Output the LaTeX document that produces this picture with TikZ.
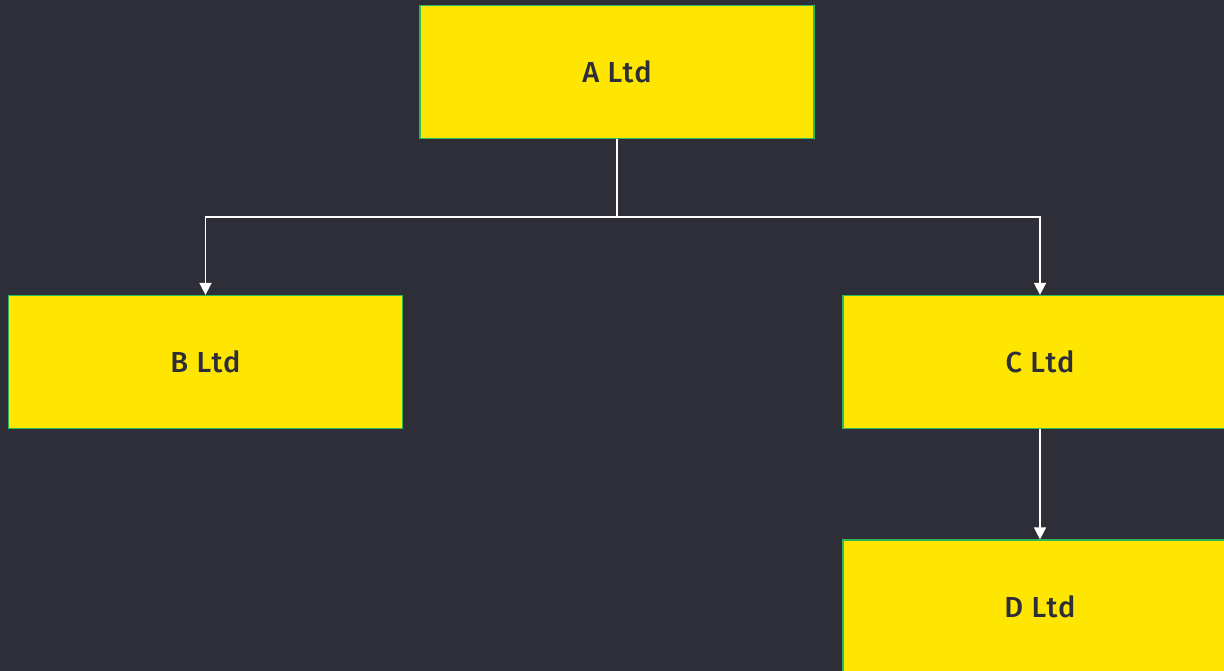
\documentclass[tikz,border=0pt]{standalone}
\usepackage{fontspec}
\setsansfont{Fira Sans}[UprightFont={* Medium}, LetterSpace=4]
\usetikzlibrary{arrows.meta, positioning}
\definecolor{cbg}{HTML}{2E2E38}
\definecolor{cyellow}{HTML}{FFE600}
\definecolor{cgreen}{HTML}{2DB757}
\definecolor{ctext}{HTML}{2E2E38}
\tikzset{
  every picture/.style={font=\sffamily, line width=1.5pt},
  entity/.style={draw=cgreen, fill=cyellow, text=ctext, line width=1.2pt, minimum width=394pt, minimum height=133pt, inner sep=0pt, font=\sffamily\fontsize{29}{33}\selectfont},
  arrow/.style={-{Triangle[length=12pt, width=12pt]}, draw=white, line width=1.5pt},
}

\begin{document}
\begin{tikzpicture}[x=1pt, y=-1pt]
  \fill[cbg] (0,0) rectangle (1224,671);
  \clip (0,0) rectangle (1224,671);
  \useasboundingbox (0,0) rectangle (1224,671);
  \node[entity] (a) at (617,72) {A Ltd};
  \node[entity] (b) at (205.5,362) {B Ltd};
  \node[entity] (c) at (1040,362) {C Ltd};
  \node[entity] (d) at (1040,606.5) {D Ltd};
  \coordinate (j) at (617,217);
  \draw[arrow] (a.south) -- (j) -| (b.north);
  \draw[arrow] (j) -| (c.north);
  \draw[arrow] (c) -- (d);
\end{tikzpicture}
\end{document}
